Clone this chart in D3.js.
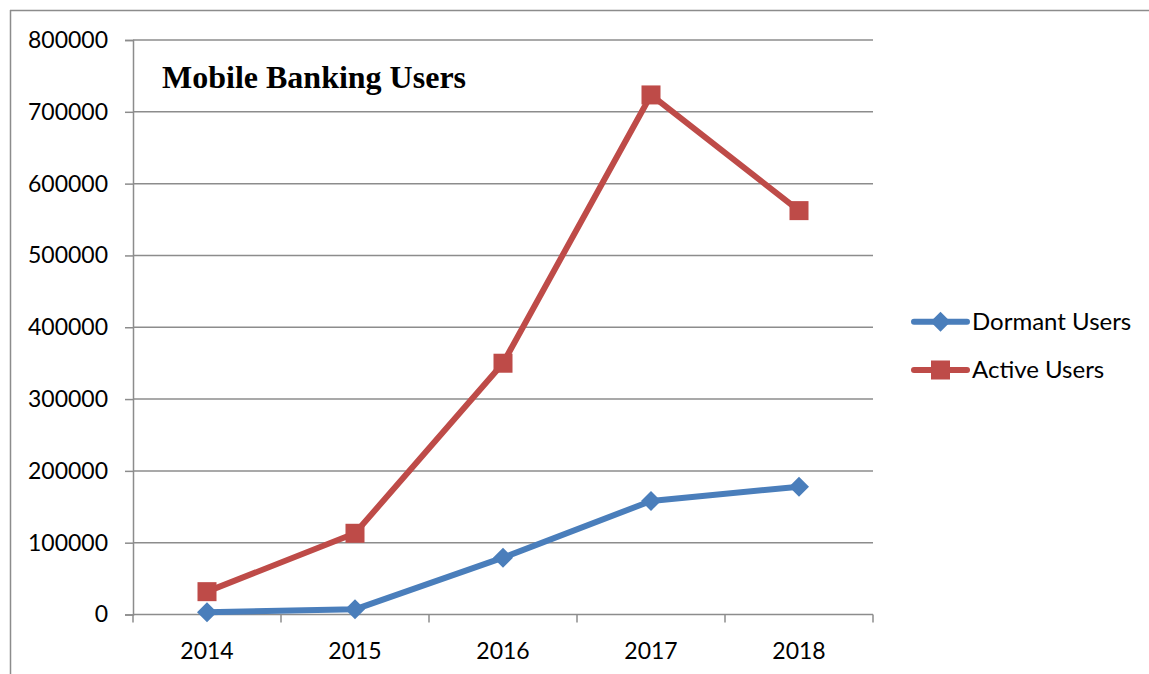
<!DOCTYPE html>
<html>
<head>
<meta charset="utf-8">
<script src="https://cdn.jsdelivr.net/npm/d3@7"></script>
<style>
  html, body { margin: 0; padding: 0; background: #fff; }
  svg { display: block; }
</style>
</head>
<body>
<svg id="chart" width="1149" height="674"></svg>
<script>
// Mobile banking users per year
const years = ["2014", "2015", "2016", "2017", "2018"];
const dormantUsers = [3100, 7200, 79100, 158100, 178000];
const activeUsers = [31800, 113100, 349900, 723500, 562400];
const yTicks = [0, 100000, 200000, 300000, 400000, 500000, 600000, 700000, 800000];
const seriesNames = ["Dormant Users", "Active Users"];
const seriesColors = ["#4a7ebb", "#be4b48"];

const svg = d3.select("#chart");
const labelFont = "Lato, Carlito, Calibri, sans-serif";
const gridColor = "#8c8c8c";

// Outer frame (top and left edges only)
svg.append("line").attr("x1", 10).attr("x2", 1149).attr("y1", 10.5).attr("y2", 10.5)
  .attr("stroke", gridColor).attr("stroke-width", 1.5);
svg.append("line").attr("x1", 10.5).attr("x2", 10.5).attr("y1", 10).attr("y2", 674)
  .attr("stroke", gridColor).attr("stroke-width", 1.5);

const plot = { left: 133, right: 873, top: 40, bottom: 614.5 };

const x = d3.scaleBand().domain(years).range([plot.left, plot.right]);
const y = d3.scaleLinear().domain([0, 800000]).range([plot.bottom, plot.top]);

// Horizontal gridlines
svg.append("g")
  .selectAll("line")
  .data(yTicks.filter(t => t > 0))
  .join("line")
  .attr("x1", plot.left).attr("x2", plot.right)
  .attr("y1", d => y(d)).attr("y2", d => y(d))
  .attr("stroke", gridColor).attr("stroke-width", 1.5);

// Y axis
const yAxis = svg.append("g")
  .attr("transform", `translate(${plot.left},0)`)
  .call(d3.axisLeft(y).tickValues(yTicks).tickSize(8).tickPadding(17).tickFormat(d3.format("d")));
yAxis.select(".domain").attr("stroke", gridColor).attr("stroke-width", 1.5);
yAxis.selectAll(".tick line").attr("stroke", gridColor).attr("stroke-width", 1.5);
yAxis.selectAll(".tick text")
  .attr("font-family", labelFont).attr("font-size", 23).attr("fill", "#000");

// X axis with ticks at category boundaries
const xAxisG = svg.append("g").attr("transform", `translate(0,${plot.bottom})`);
xAxisG.append("line").attr("x1", plot.left).attr("x2", plot.right)
  .attr("stroke", gridColor).attr("stroke-width", 1.5);
const boundaries = years.map(yr => x(yr)).concat([x(years[years.length - 1]) + x.bandwidth()]);
xAxisG.selectAll("line.tk").data(boundaries).join("line")
  .attr("class", "tk")
  .attr("x1", d => d).attr("x2", d => d).attr("y1", 0).attr("y2", 8)
  .attr("stroke", gridColor).attr("stroke-width", 1.5);
xAxisG.selectAll("text").data(years).join("text")
  .attr("x", d => x(d) + x.bandwidth() / 2)
  .attr("y", 44)
  .attr("text-anchor", "middle")
  .attr("font-family", labelFont).attr("font-size", 23).attr("fill", "#000")
  .text(d => d);

// Series lines and markers
const cx = d => x(d) + x.bandwidth() / 2;
const series = [dormantUsers, activeUsers];
const line = d3.line().x((d, i) => cx(years[i])).y(d => y(d));

series.forEach((vals, si) => {
  svg.append("path")
    .datum(vals)
    .attr("d", line)
    .attr("fill", "none")
    .attr("stroke", seriesColors[si])
    .attr("stroke-width", 6)
    .attr("stroke-linejoin", "round");
});

function drawMarker(g, px, py, si) {
  if (si === 0) {
    const r = 10;
    g.append("path")
      .attr("d", `M${px},${py - r}L${px + r},${py}L${px},${py + r}L${px - r},${py}Z`)
      .attr("fill", seriesColors[si]);
  } else {
    const s = 19;
    g.append("rect")
      .attr("x", px - s / 2).attr("y", py - s / 2)
      .attr("width", s).attr("height", s)
      .attr("fill", seriesColors[si]);
  }
}

series.forEach((vals, si) => {
  const g = svg.append("g");
  vals.forEach((v, i) => drawMarker(g, cx(years[i]), y(v), si));
});

// Title
svg.append("text")
  .attr("x", 162).attr("y", 88)
  .attr("font-family", "'Liberation Serif', 'Times New Roman', serif")
  .attr("font-weight", "bold")
  .attr("font-size", 32)
  .attr("fill", "#000")
  .text("Mobile Banking Users");

// Legend
const legendY = [321.7, 370];
seriesNames.forEach((name, si) => {
  const g = svg.append("g");
  g.append("line")
    .attr("x1", 914).attr("x2", 967)
    .attr("y1", legendY[si]).attr("y2", legendY[si])
    .attr("stroke", seriesColors[si]).attr("stroke-width", 6)
    .attr("stroke-linecap", "round");
  drawMarker(g, 940.5, legendY[si], si);
  g.append("text")
    .attr("x", 972).attr("y", legendY[si])
    .attr("dy", "0.35em")
    .attr("font-family", labelFont).attr("font-size", 24).attr("fill", "#000")
    .text(name);
});
</script>
</body>
</html>
